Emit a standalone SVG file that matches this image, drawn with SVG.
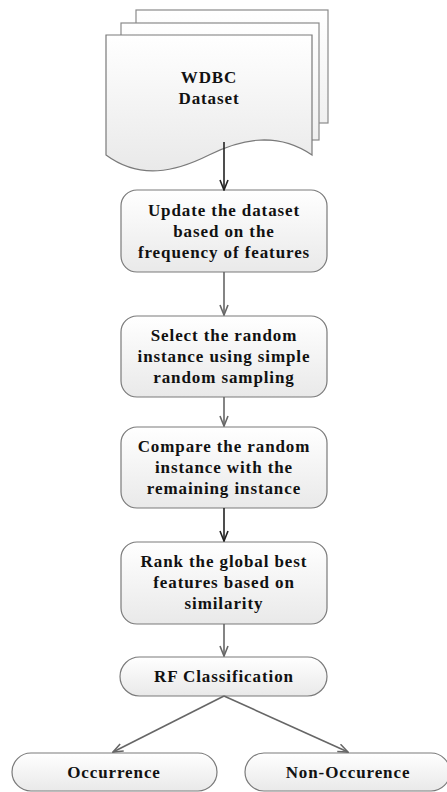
<svg xmlns="http://www.w3.org/2000/svg" width="447" height="792" viewBox="0 0 447 792">
<defs>
<linearGradient id="g" x1="0" y1="0" x2="0" y2="1">
<stop offset="0" stop-color="#ffffff"/>
<stop offset="1" stop-color="#e9e9e9"/>
</linearGradient>
<linearGradient id="gp" x1="0" y1="0" x2="0" y2="1">
<stop offset="0" stop-color="#ffffff"/>
<stop offset="1" stop-color="#f0f0f0"/>
</linearGradient>
<marker id="ahd" viewBox="0 0 12 10" refX="11" refY="5" markerWidth="12" markerHeight="10" markerUnits="userSpaceOnUse" orient="auto">
<path d="M1,1 L11,5 L1,9" fill="none" stroke="#222" stroke-width="1.6"/>
</marker>
<marker id="ahg" viewBox="0 0 12 10" refX="11" refY="5" markerWidth="12" markerHeight="10" markerUnits="userSpaceOnUse" orient="auto">
<path d="M1,1 L11,5 L1,9" fill="none" stroke="#666" stroke-width="1.6"/>
</marker>
</defs>
<style>
.box{fill:url(#g);stroke:#7a7a7a;stroke-width:1.2}
.page{fill:url(#gp);stroke:#8a8a8a;stroke-width:1.2}
.t{font-weight:bold;font-size:17px;letter-spacing:0.9px;fill:#111;text-anchor:middle}
.cd{fill:none;stroke:#222;stroke-width:1.6;marker-end:url(#ahd)}
.cg{fill:none;stroke:#666;stroke-width:1.6;marker-end:url(#ahg)}
</style>
<g font-family="'Liberation Serif', 'Times New Roman', serif">
<g id="dataset">
<rect class="page" x="136" y="10" width="192" height="113"/>
<rect class="page" x="121" y="23" width="198" height="117"/>
<path class="box" d="M106,35 H312 V155 C278,132 243,138 209,155 C175,172 140,180 106,155 Z"/>
<text class="t" x="209" y="83">WDBC</text>
<text class="t" x="209" y="104">Dataset</text>
</g>
<g id="update">
<rect class="box" x="121" y="190" width="206" height="82" rx="16"/>
<text class="t" x="224" y="216">Update the dataset</text>
<text class="t" x="224" y="237">based on the</text>
<text class="t" x="224" y="258">frequency of features</text>
</g>
<g id="select">
<rect class="box" x="121" y="316" width="206" height="81" rx="16"/>
<text class="t" x="224" y="341">Select the random</text>
<text class="t" x="224" y="362">instance using simple</text>
<text class="t" x="224" y="383">random sampling</text>
</g>
<g id="compare">
<rect class="box" x="121" y="427" width="206" height="81" rx="16"/>
<text class="t" x="224" y="452">Compare the random</text>
<text class="t" x="224" y="473">instance with the</text>
<text class="t" x="224" y="494">remaining instance</text>
</g>
<g id="rank">
<rect class="box" x="121" y="542" width="206" height="82" rx="16"/>
<text class="t" x="224" y="567">Rank the global best</text>
<text class="t" x="224" y="588">features based on</text>
<text class="t" x="224" y="609">similarity</text>
</g>
<g id="rf">
<rect class="box" x="120" y="657" width="207" height="39" rx="19.5"/>
<text class="t" x="224" y="682">RF Classification</text>
</g>
<g id="occurrence">
<rect class="box" x="12" y="753" width="205" height="38" rx="19"/>
<text class="t" x="114" y="778">Occurrence</text>
</g>
<g id="nonoccurrence">
<rect class="box" x="245" y="753" width="205" height="38" rx="19"/>
<text class="t" x="348" y="778">Non-Occurence</text>
</g>
</g>
<g id="connectors">
<line class="cd" x1="224" y1="142" x2="224" y2="190"/>
<line class="cg" x1="224" y1="272" x2="224" y2="315"/>
<line class="cg" x1="224" y1="397" x2="224" y2="426"/>
<line class="cd" x1="224" y1="508" x2="224" y2="541"/>
<line class="cg" x1="224" y1="624" x2="224" y2="656"/>
<line class="cg" x1="224" y1="696" x2="113" y2="752"/>
<line class="cg" x1="224" y1="696" x2="348" y2="752"/>
</g>
</svg>
